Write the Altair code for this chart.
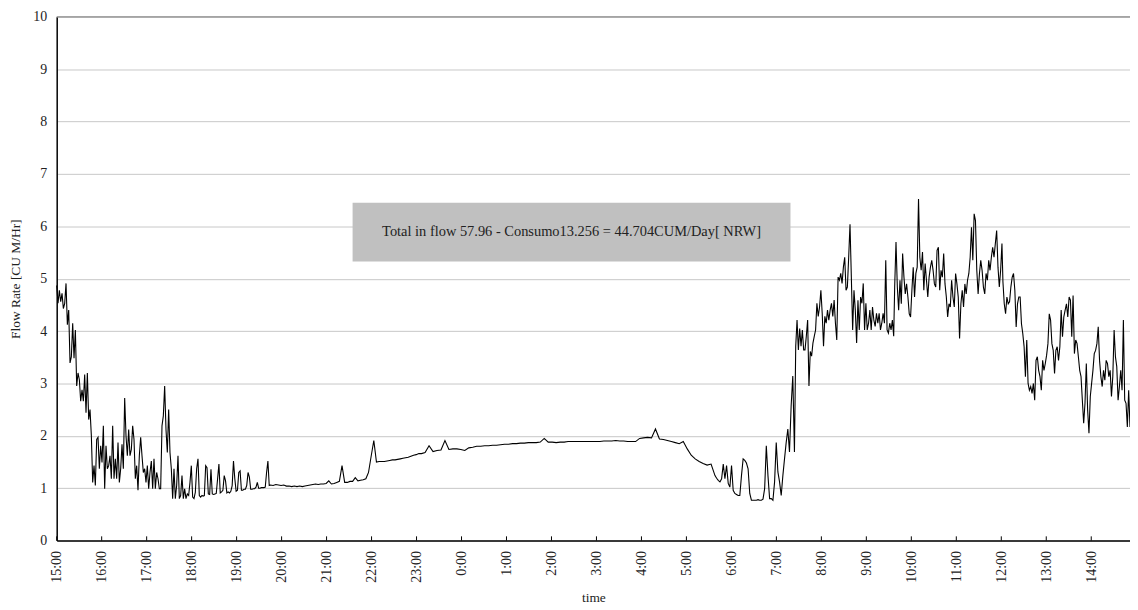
import numpy as np
import pandas as pd
import altair as alt

# ---- data: flow-rate readings (CU M/Hr), grouped by stretches of the day ----
# minutes after 15:00 for first/last reading of each stretch
SEG_A_SPAN = (0.0, 193.8)
SEG_A = [4.87,4.53,4.78,4.56,4.72,4.43,4.53,4.91,4.12,4.40,
         3.39,3.51,4.15,3.48,4.02,2.95,3.20,3.07,2.66,2.88,
         2.66,3.17,2.44,3.20,2.31,2.50,2.00,1.11,1.43,1.05,
         1.93,1.97,1.37,1.81,1.49,2.19,0.99,1.81,1.37,1.43,
         1.62,1.18,2.19,1.18,1.56,1.18,1.87,1.11,1.37,1.84,
         1.37,2.72,2.00,1.62,2.12,1.62,1.74,2.19,1.93,1.18,
         1.43,0.96,1.62,1.97,1.62,1.30,1.37,1.11,1.43,0.99,
         1.30,1.52,0.99,1.56,0.99,1.30,1.18,0.99,0.99,2.19,
         2.38,2.95,2.12,1.68,2.50,1.68,1.37,0.80,1.37,0.80,
         1.05,1.62,0.80,0.86,1.24,0.80,0.99,0.80,0.89,0.86,
         1.11,1.43,0.83,0.80,0.92,1.37,1.56,0.86,0.83,0.86]

SEG_B1_SPAN = (195.2, 283.5)
SEG_B1 = [0.85,0.86,1.43,1.39,0.89,0.88,1.36,0.89,0.88,0.89,
          0.90,1.18,1.46,0.91,0.93,0.96,1.24,1.14,0.91,0.93,
          0.91,0.94,1.05,1.52,1.18,0.94,0.96,1.30,1.33,0.96,
          0.96,0.98,0.98,1.05,1.30,1.21,0.98,0.98,0.99,0.99,
          1.02,1.11,1.00,1.00,1.01,1.01,1.01,1.02,1.30,1.52,1.05]

SEG_B2_SPAN = (285.2, 486.6)
SEG_B2 = [1.06,1.05,1.07,1.06,1.05,1.06,1.04,1.04,1.03,1.04,
          1.03,1.04,1.03,1.04,1.05,1.06,1.07,1.08,1.07,1.08,
          1.08,1.09,1.14,1.08,1.09,1.11,1.13,1.43,1.11,1.11,
          1.13,1.13,1.20,1.14,1.15,1.16,1.18,1.30,1.61,1.91,
          1.50,1.51,1.51,1.51,1.52,1.53,1.54,1.54,1.55,1.56,
          1.57,1.58,1.59,1.61,1.63,1.64,1.66,1.66]

SEG_C_SPAN = (491.4, 835.8)
SEG_C = [1.68,1.81,1.70,1.72,1.73,1.91,1.74,1.75,1.75,1.74,
         1.72,1.77,1.78,1.80,1.80,1.81,1.81,1.82,1.82,1.83,
         1.84,1.84,1.85,1.85,1.86,1.86,1.87,1.87,1.87,1.88,
         1.95,1.88,1.88,1.87,1.88,1.88,1.89,1.89,1.89,1.89,
         1.89,1.89,1.89,1.89,1.89,1.90,1.90,1.90,1.91,1.90,
         1.90,1.89,1.89,1.89,1.95,1.96,1.97,1.96,2.13,1.94,
         1.93,1.91,1.89,1.87,1.85,1.89]

SEG_D_SPAN = (841.1, 872.9)
SEG_D = [1.75,1.63,1.56,1.51,1.47,1.44,1.46]

SEG_E1_SPAN = (878.1, 984.1)
SEG_E1 = [1.24,1.19,1.15,1.12,1.18,1.46,1.18,1.43,1.09,1.02,
          1.43,0.96,0.90,0.88,0.86,0.86,1.24,1.56,1.53,1.48,
          1.37,0.90,0.77,0.77,0.77,0.77,0.78,0.77,0.77,0.79,
          0.99,1.81,1.24,0.80,0.80,0.77,1.12,1.87,1.31,1.12,
          0.86,1.24,1.56,1.87,2.13,1.69,2.57,3.14,1.69]

SEG_E2_SPAN = (985.8, 1116.5)
SEG_E2 = [3.71,4.21,3.64,4.05,3.71,4.02,3.64,3.64,3.90,4.21,
          2.95,3.61,3.52,3.77,3.90,4.02,4.53,4.28,4.46,4.78,
          4.34,3.71,4.28,4.15,4.40,4.21,4.40,4.53,4.28,4.59,
          4.15,3.83,5.03,4.97,5.10,4.91,5.22,5.41,4.78,4.84,
          5.41,6.04,5.03,4.02,4.78,4.40,3.77,4.59,4.02,4.65,
          4.53,4.91,4.02,4.53,4.02,4.15,4.40,4.02,4.46,4.21,
          4.09,4.34,4.15,4.34,4.02,4.15,4.34,4.15,5.35,4.02,
          3.96,4.15,4.02,4.21,3.90]

SEG_F_SPAN = (1117.8, 1260.9)
SEG_F = [4.84,5.70,4.84,4.40,4.97,4.52,5.48,5.03,4.71,4.90,
         4.65,4.33,4.27,4.78,5.22,4.65,5.10,5.22,6.52,5.41,
         5.16,5.51,4.78,5.29,4.97,4.65,5.03,5.22,5.35,5.16,
         4.90,4.84,5.54,5.60,4.78,5.16,5.03,5.48,4.90,4.65,
         4.27,4.52,4.46,4.97,4.65,4.46,5.10,4.90,4.65,3.86,
         4.52,4.78,4.46,4.90,4.71,4.97,5.10,5.41,5.98,5.35,
         6.24,6.11,5.16,4.71,5.10,5.35,5.16,4.84,4.71,5.10,
         4.97,5.35,5.16,5.41,5.60,5.41,5.67,5.92,5.22,4.84,
         5.16,5.67]

SEG_G_SPAN = (1262.2, 1431.7)
SEG_G = [4.94,4.52,4.33,4.65,4.52,4.56,4.84,5.03,5.10,4.78,
         4.08,4.52,4.65,4.65,4.14,3.95,3.70,3.13,3.83,3.00,
         2.87,2.94,2.81,3.00,2.68,3.44,3.51,3.25,3.13,2.87,
         3.44,3.25,3.38,3.54,3.76,4.33,4.21,3.76,3.63,3.19,
         3.63,3.70,3.44,3.70,4.40,3.89,4.27,4.40,4.52,4.27,
         4.65,4.59,3.89,4.68,3.57,3.83,3.76,3.51,3.25,3.13,
         2.68,2.24,2.62,3.38,2.49,2.05,2.75,3.00,3.25,3.57,
         3.63,3.76,4.08,3.44,3.13,2.94,3.25,3.06,3.44,3.38,
         3.13,3.25,2.75,3.13,4.02,3.51,3.32,2.68,2.94,3.25,
         2.87,4.21,2.68,2.62,2.17,2.87,2.17]

HOUR_TICKS = list(range(0, 1440, 60))   # minutes after 15:00
Y_TICKS = list(range(0, 11))
NOTE_TEXT = "Total in flow 57.96 - Consumo13.256 = 44.704CUM/Day[ NRW]"
NOTE_BOX = {"x": 394.7, "x2": 978.8, "y": 5.33, "y2": 6.45}

# ---- build table ----
segments = [(SEG_A_SPAN, SEG_A), (SEG_B1_SPAN, SEG_B1), (SEG_B2_SPAN, SEG_B2),
            (SEG_C_SPAN, SEG_C), (SEG_D_SPAN, SEG_D), (SEG_E1_SPAN, SEG_E1),
            (SEG_E2_SPAN, SEG_E2), (SEG_F_SPAN, SEG_F), (SEG_G_SPAN, SEG_G)]
ts, vs = [], []
for (t0, t1), vals in segments:
    ts.extend(np.linspace(t0, t1, len(vals)).tolist())
    vs.extend(vals)
df = pd.DataFrame({"t": ts, "v": vs})
t_end = ts[-1]

FONT = "Liberation Serif"
xscale = alt.Scale(domain=[0, t_end], nice=False, zero=False)
yscale = alt.Scale(domain=[0, 10], nice=False)

line = alt.Chart(df).mark_line(color="black", strokeWidth=1.1, interpolate="linear").encode(
    x=alt.X("t:Q", scale=xscale, title="time",
            axis=alt.Axis(values=HOUR_TICKS, labelAngle=270, labelAlign="right",
                          labelBaseline="middle",
                          labelExpr="((15 + datum.value/60) % 24) + ':00'",
                          grid=False, ticks=False, domainColor="black", domainWidth=1.5,
                          labelPadding=10, labelFontSize=14, labelColor="#222",
                          titleFontSize=13.5, titleFontWeight="normal", titlePadding=8,
                          titleColor="#222", labelFlush=False)),
    y=alt.Y("v:Q", scale=yscale, title="Flow Rate [CU M/Hr]",
            axis=alt.Axis(values=Y_TICKS, grid=True, gridColor="#c8c8c8", ticks=False,
                          domainColor="black", domainWidth=1.5, labelPadding=10,
                          labelFontSize=14, labelColor="#222", titleFontSize=13.5,
                          titleFontWeight="normal", titlePadding=10, titleColor="#222")),
)

note_df = pd.DataFrame([NOTE_BOX])
box = alt.Chart(note_df).mark_rect(color="#c0c0c0").encode(
    x=alt.X("x:Q", scale=xscale), x2="x2:Q",
    y=alt.Y("y:Q", scale=yscale), y2="y2:Q")
note = alt.Chart(pd.DataFrame({"x": [(NOTE_BOX["x"] + NOTE_BOX["x2"]) / 2],
                               "y": [(NOTE_BOX["y"] + NOTE_BOX["y2"]) / 2],
                               "label": [NOTE_TEXT]})).mark_text(
    font=FONT, fontSize=14.5, color="#222", align="center", baseline="middle").encode(
    x=alt.X("x:Q", scale=xscale), y=alt.Y("y:Q", scale=yscale), text="label:N")

tick_df = pd.DataFrame({"t": HOUR_TICKS, "y0": [0] * len(HOUR_TICKS), "y1": [0.08] * len(HOUR_TICKS)})
ticks = alt.Chart(tick_df).mark_rule(color="black", strokeWidth=1).encode(
    x=alt.X("t:Q", scale=xscale), y=alt.Y("y0:Q", scale=yscale), y2="y1:Q")

top_df = pd.DataFrame({"y": [10]})
top = alt.Chart(top_df).mark_rule(color="#888888", strokeWidth=1.2).encode(
    y=alt.Y("y:Q", scale=yscale))

chart = alt.layer(box, note, line, ticks, top).properties(
    width=1080, height=527,
    autosize=alt.AutoSizeParams(type="none"),
    padding={"left": 49, "top": 7, "right": 0, "bottom": 66},
).configure(font=FONT).configure_view(stroke=None)

chart.save("out.html", embed_options={"renderer": "svg", "actions": False})
